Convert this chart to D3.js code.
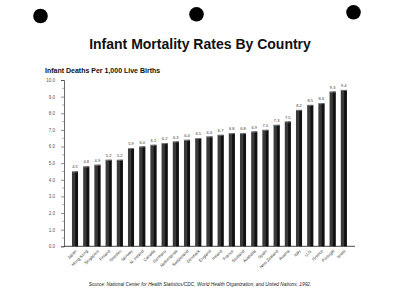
<!DOCTYPE html>
<html>
<head>
<meta charset="utf-8">
<script src="https://cdn.jsdelivr.net/npm/d3@7"></script>
<style>
  body { margin: 0; background: #fff; }
  svg { display: block; }
</style>
</head>
<body>
<div id="chart"></div>
<script>
var countries = ["Japan", "Hong Kong", "Singapore", "Finland", "Sweden", "Norway", "N. Ireland", "Canada",
    "Germany", "Netherlands", "Switzerland", "Denmark", "England", "Ireland", "France", "Scotland",
    "Australia", "Spain", "New Zealand", "Austria", "Italy", "U.S.", "Greece", "Portugal", "Israel"];
var rates = [4.5, 4.8, 4.9, 5.2, 5.2, 5.9, 6.0, 6.1, 6.2, 6.3, 6.4, 6.5, 6.6, 6.7, 6.8, 6.8, 6.9, 7.0,
    7.3, 7.5, 8.2, 8.5, 8.6, 9.3, 9.4];
var yTicks = [0, 1, 2, 3, 4, 5, 6, 7, 8, 9, 10];
var yMinor = [0.5, 1.5, 2.5, 3.5, 4.5, 5.5, 6.5, 7.5, 8.5, 9.5];

var data = countries.map(function(c, i) {
    return { country: c, rate: rates[i] };
});

var width = 400, height = 306;

var svg = d3.select("#chart")
    .append("svg")
    .attr("width", width)
    .attr("height", height)
    .attr("font-family", "'Liberation Sans', Arial, sans-serif");

// punch holes
var holes = [[40.5, 16, 7.3], [196.5, 14.3, 7.3], [353.5, 12.3, 7.3]];
svg.selectAll("circle.hole")
    .data(holes)
    .enter().append("circle")
    .attr("class", "hole")
    .attr("cx", function(d) { return d[0]; })
    .attr("cy", function(d) { return d[1]; })
    .attr("r", function(d) { return d[2]; })
    .attr("fill", "#000");

// Title
svg.append("text")
    .attr("x", 200)
    .attr("y", 49)
    .attr("text-anchor", "middle")
    .attr("font-weight", "bold")
    .attr("font-size", 14)
    .attr("fill", "#111")
    .text("Infant Mortality Rates By Country");

svg.append("text")
    .attr("x", 45)
    .attr("y", 72.5)
    .attr("font-weight", "bold")
    .attr("font-size", 7)
    .attr("fill", "#111")
    .text("Infant Deaths Per 1,000 Live Births");

var xScale = d3.scaleBand()
    .domain(countries)
    .range([69.4, 349.4])
    .paddingInner(0.46)
    .paddingOuter(0.23);

var yScale = d3.scaleLinear()
    .domain([0, 10])
    .range([246.3, 80]);

// Y axis
var yAxis = svg.append("g")
    .attr("transform", "translate(64,0)")
    .call(d3.axisLeft(yScale)
        .tickValues(yTicks)
        .tickSize(3)
        .tickPadding(6)
        .tickFormat(d3.format(".1f")));
yAxis.select(".domain").attr("stroke", "#444").attr("stroke-width", 0.8);
yAxis.selectAll(".tick line").attr("stroke", "#444").attr("stroke-width", 0.6);
yAxis.selectAll("text")
    .attr("font-size", 4.5)
    .attr("fill", "#555")
    .attr("font-family", "'Liberation Sans', Arial, sans-serif");

svg.append("g")
    .selectAll("line")
    .data(yMinor)
    .enter().append("line")
    .attr("x1", 62)
    .attr("x2", 64)
    .attr("y1", function(d) { return yScale(d); })
    .attr("y2", function(d) { return yScale(d); })
    .attr("stroke", "#666")
    .attr("stroke-width", 0.5);

// X axis line
svg.append("line")
    .attr("x1", 64)
    .attr("x2", 355)
    .attr("y1", yScale(0))
    .attr("y2", yScale(0))
    .attr("stroke", "#333")
    .attr("stroke-width", 0.9);

// Bars (front face plus darker side)
var bars = svg.append("g")
    .selectAll("g")
    .data(data)
    .enter().append("g");

bars.append("rect")
    .attr("x", function(d) { return xScale(d.country); })
    .attr("y", function(d) { return yScale(d.rate); })
    .attr("width", xScale.bandwidth())
    .attr("height", function(d) { return yScale(0) - yScale(d.rate); })
    .attr("fill", "#3a3a3a");

bars.append("rect")
    .attr("x", function(d) { return xScale(d.country) + xScale.bandwidth() * 0.55; })
    .attr("y", function(d) { return yScale(d.rate); })
    .attr("width", xScale.bandwidth() * 0.45)
    .attr("height", function(d) { return yScale(0) - yScale(d.rate); })
    .attr("fill", "#111");

bars.append("line")
    .attr("x1", function(d) { return xScale(d.country); })
    .attr("x2", function(d) { return xScale(d.country) + xScale.bandwidth(); })
    .attr("y1", function(d) { return yScale(d.rate) + 0.4; })
    .attr("y2", function(d) { return yScale(d.rate) + 0.4; })
    .attr("stroke", "#888")
    .attr("stroke-width", 0.8);

// value labels
bars.append("text")
    .attr("x", function(d) { return xScale(d.country) + xScale.bandwidth() / 2; })
    .attr("y", function(d) { return yScale(d.rate) - 3; })
    .attr("text-anchor", "middle")
    .attr("font-size", 4)
    .attr("fill", "#333")
    .text(function(d) { return d3.format(".1f")(d.rate); });

// country labels
svg.append("g")
    .selectAll("text")
    .data(countries)
    .enter().append("text")
    .attr("transform", function(d) {
        return "translate(" + (xScale(d) + xScale.bandwidth() / 2 + 2) + "," + (yScale(0) + 5) + ") rotate(-45)";
    })
    .attr("text-anchor", "end")
    .attr("font-size", 4.2)
    .attr("fill", "#333")
    .text(function(d) { return d; });

// source note
svg.append("text")
    .attr("x", 200)
    .attr("y", 286)
    .attr("text-anchor", "middle")
    .attr("font-size", 4.8)
    .attr("font-style", "italic")
    .attr("fill", "#222")
    .text("Source: National Center for Health Statistics/CDC, World Health Organization, and United Nations; 1992.");
</script>
</body>
</html>
